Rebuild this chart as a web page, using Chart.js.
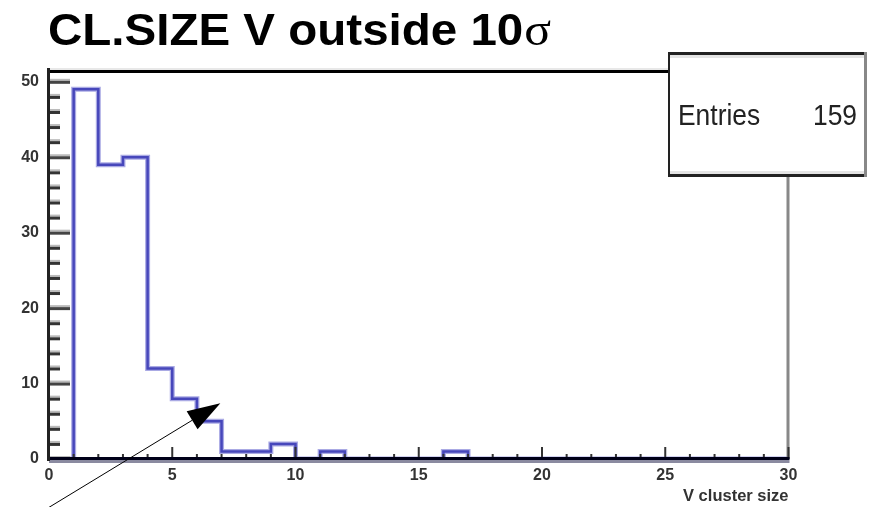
<!DOCTYPE html>
<html>
<head>
<meta charset="utf-8">
<script src="https://cdn.jsdelivr.net/npm/chart.js@4.4.1/dist/chart.umd.min.js"></script>
<style>
  html, body { margin: 0; padding: 0; background: #fff; }
  #wrap { width: 872px; height: 507px; }
</style>
</head>
<body>
<div id="wrap"><canvas id="chart" width="872" height="507"></canvas></div>
<script>
// histogram: V cluster size, 30 bins of width 1 from 0 to 30
var binEdges = [0, 1, 2, 3, 4, 5, 6, 7, 8, 9, 10, 11, 12, 13, 14, 15, 16, 17, 18, 19,
                20, 21, 22, 23, 24, 25, 26, 27, 28, 29, 30];
var counts = [0, 49, 39, 40, 12, 8, 5, 1, 1, 2, 0, 1, 0, 0, 0, 0, 1, 0, 0, 0,
              0, 0, 0, 0, 0, 0, 0, 0, 0, 0];
var xTickLabels = [0, 5, 10, 15, 20, 25, 30];
var yTickLabels = [0, 10, 20, 30, 40, 50];
var entries = 159;
var titleText = "CL.SIZE V outside 10";
var titleSymbol = "σ";

// step outline: one point per lower bin edge, plus the closing upper edge
var points = [];
for (var i = 0; i < counts.length; i++) {
    points.push({ x: binEdges[i], y: counts[i] });
}
points.push({ x: binEdges[binEdges.length - 1], y: counts[counts.length - 1] });

var tickFont = { family: "'Liberation Sans', Arial, sans-serif", size: 16, weight: "bold" };

var framePlugin = {
    id: "frame",
    afterDatasetsDraw: function (chart) {
        var c = chart.ctx, a = chart.chartArea;
        var xs = chart.scales.x, ys = chart.scales.y;
        c.save();

        // stats box geometry
        var bx = 668, by = 52, bw = 199, bh = 125;

        // top frame line and right frame line below the box
        c.fillStyle = "#e8e8e8";
        c.fillRect(a.left, a.top - 4, bx - a.left, 2);
        c.fillStyle = "#000";
        c.fillRect(a.left, a.top - 2, bx - a.left, 3);
        c.fillStyle = "#888";
        c.fillRect(a.right - 2, by + bh, 3, a.bottom - by - bh);

        // y ticks, drawn inwards
        for (var v = 0; v <= 50; v += 2) {
            var py = ys.getPixelForValue(v);
            var major = v % 10 === 0;
            c.fillStyle = "#bbb";
            c.fillRect(a.left, py - 3, major ? 21 : 11, 2);
            c.fillStyle = major ? "#444" : "#333";
            c.fillRect(a.left, py - 1, major ? 21 : 11, 3);
        }
        // x ticks, drawn inwards
        for (var t = 0; t <= 30; t++) {
            var px = xs.getPixelForValue(t);
            var len = t % 5 === 0 ? 12 : 5;
            c.fillStyle = "#333";
            c.fillRect(px - 1, a.bottom - len, 2, len);
        }

        // axis lines
        c.fillStyle = "#8a8aa0";
        c.fillRect(a.left, a.bottom + 1, a.right - a.left + 1, 3);
        c.fillStyle = "#000018";
        c.fillRect(a.left, a.bottom - 2, a.right - a.left + 1, 3);
        c.fillStyle = "#222";
        c.fillRect(a.left - 2, a.top - 4, 3, a.bottom - a.top + 6);

        // stats box
        c.fillStyle = "#fff";
        c.fillRect(bx, by, bw, bh);
        c.fillStyle = "#222";
        c.fillRect(bx, by, bw, 3);
        c.fillRect(bx, by + bh - 3, bw, 3);
        c.fillRect(bx, by, 2, bh);
        c.fillStyle = "#e4e4e4";
        c.fillRect(bx + 2, by + 3, bw - 4, 3);
        c.fillRect(bx + 2, by + bh - 6, bw - 4, 3);
        c.fillStyle = "#888";
        c.fillRect(bx + bw - 3, by, 3, bh);

        c.fillStyle = "#222";
        c.font = "30px 'Liberation Sans', Arial, sans-serif";
        c.textBaseline = "alphabetic";
        c.save();
        c.translate(bx + 10, by + 73);
        c.scale(0.88, 1);
        c.textAlign = "left";
        c.fillText("Entries", 0, 0);
        c.restore();
        c.save();
        c.translate(bx + bw - 10, by + 73);
        c.scale(0.88, 1);
        c.textAlign = "right";
        c.fillText(String(entries), 0, 0);
        c.restore();

        // arrow pointing at the tail of the distribution
        var tipX = xs.getPixelForValue(6.95), tipY = ys.getPixelForValue(7.4);
        var tailX = xs.getPixelForValue(-0.6), tailY = ys.getPixelForValue(-7.6);
        var ang = Math.atan2(tipY - tailY, tipX - tailX);
        var headLen = 33, headHalf = 10.5;
        var baseX = tipX - headLen * Math.cos(ang), baseY = tipY - headLen * Math.sin(ang);
        c.strokeStyle = "#000";
        c.lineWidth = 1;
        c.beginPath();
        c.moveTo(tailX, tailY);
        c.lineTo(baseX, baseY);
        c.stroke();
        c.fillStyle = "#000";
        c.beginPath();
        c.moveTo(tipX, tipY);
        c.lineTo(baseX + headHalf * Math.sin(ang), baseY - headHalf * Math.cos(ang));
        c.lineTo(baseX - headHalf * Math.sin(ang), baseY + headHalf * Math.cos(ang));
        c.closePath();
        c.fill();

        // title, slightly widened; the sigma comes from a serif face
        c.fillStyle = "#000";
        c.textAlign = "left";
        c.save();
        c.translate(48, 45);
        c.scale(1.08, 1);
        c.font = "bold 44px 'Liberation Sans', Arial, sans-serif";
        c.fillText(titleText, 0, 0);
        var w = c.measureText(titleText).width;
        c.font = "46px 'Liberation Serif', 'Times New Roman', serif";
        c.fillText(titleSymbol, w + 1, 0);
        c.restore();

        c.restore();
    }
};

var ctx = document.getElementById("chart").getContext("2d");
var chart = new Chart(ctx, {
    type: "line",
    data: {
        datasets: [
            {
                data: points,
                borderColor: "rgba(100, 100, 205, 0.55)",
                borderWidth: 5,
                stepped: true,
                pointRadius: 0,
                fill: false,
                clip: false
            },
            {
                data: points,
                borderColor: "#2424a4",
                borderWidth: 2.5,
                stepped: true,
                pointRadius: 0,
                fill: false,
                clip: false
            }
        ]
    },
    options: {
        responsive: false,
        animation: false,
        devicePixelRatio: 1,
        layout: { padding: { top: 72, right: 83.5, left: 0, bottom: 0 } },
        plugins: {
            legend: { display: false },
            tooltip: { enabled: false },
            title: { display: false }
        },
        scales: {
            x: {
                type: "linear",
                min: 0,
                max: 30,
                grid: { display: false, drawTicks: false },
                border: { display: false },
                afterBuildTicks: function (scale) {
                    scale.ticks = xTickLabels.map(function (v) { return { value: v }; });
                },
                afterFit: function (scale) { scale.height = 48; },
                ticks: { color: "#333", font: tickFont, padding: 7, maxRotation: 0, autoSkip: false },
                title: {
                    display: true,
                    text: "V cluster size",
                    align: "end",
                    color: "#333",
                    font: { family: tickFont.family, size: 16.5, weight: "bold" },
                    padding: { top: 0, bottom: 1 }
                }
            },
            y: {
                min: 0,
                max: 51.3,
                grid: { display: false, drawTicks: false },
                border: { display: false },
                afterBuildTicks: function (scale) {
                    scale.ticks = yTickLabels.map(function (v) { return { value: v }; });
                },
                afterFit: function (scale) { scale.width = 49; },
                ticks: { color: "#333", font: tickFont, padding: 10, autoSkip: false }
            }
        }
    },
    plugins: [framePlugin]
});
</script>
</body>
</html>
